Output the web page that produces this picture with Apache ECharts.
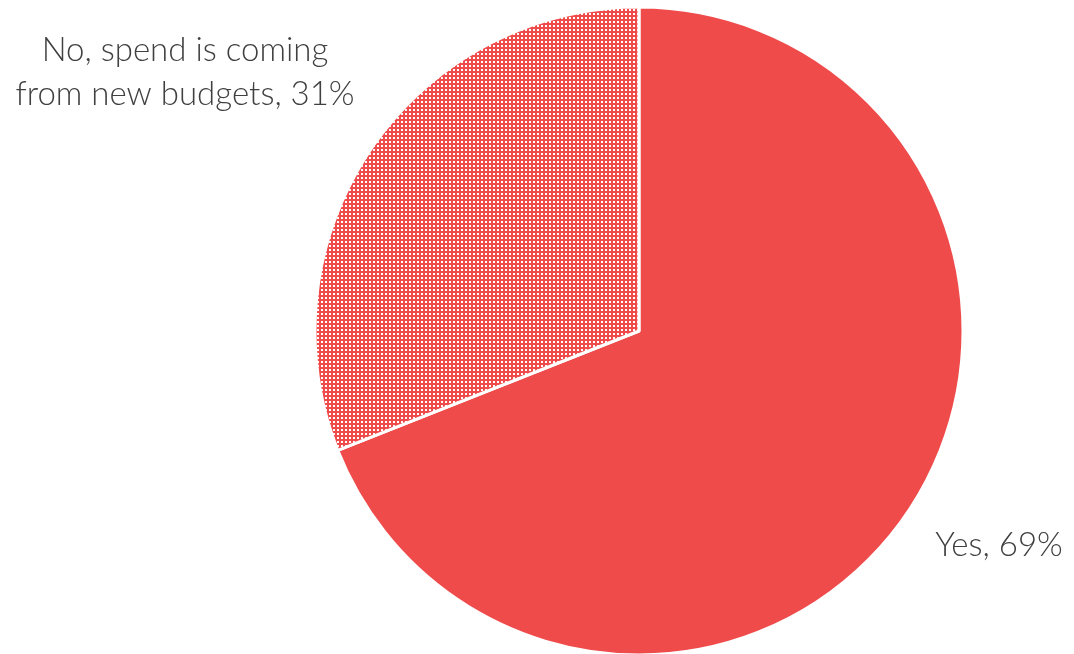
<!DOCTYPE html>
<html>
<head>
<meta charset="utf-8">
<style>
  html, body { margin: 0; padding: 0; background: #ffffff; }
  #chart { width: 1074px; height: 654px; }
</style>
<script src="https://cdn.jsdelivr.net/npm/echarts@6/dist/echarts.min.js"></script>
</head>
<body>
<div id="chart"></div>
<script>
// Survey answers and their shares (%)
const categories = ['Yes', 'No, spend is coming\nfrom new budgets'];
const shares = [69, 31];

const RED = '#EF4B4B';

// Dotted fill: small white squares on red, 4px repeat
function dotPattern() {
  const c = document.createElement('canvas');
  c.width = 4; c.height = 4;
  const g = c.getContext('2d');
  g.fillStyle = RED;
  g.fillRect(0, 0, 4, 4);
  g.fillStyle = '#ffffff';
  g.fillRect(1, 1, 2, 2);
  return c;
}

// Label anchor points for each slice
const labelSpots = [
  { x: 999, y: 545 },
  { x: 185, y: 72 }
];

const chart = echarts.init(document.getElementById('chart'), null, { renderer: 'canvas' });

chart.setOption({
  animation: false,
  series: [{
    type: 'pie',
    center: [639, 331],
    radius: [0, 324],
    startAngle: 90,
    clockwise: true,
    emphasis: { disabled: true },
    itemStyle: { borderColor: '#ffffff', borderWidth: 3 },
    label: {
      show: true,
      position: 'inside',
      overflow: 'none',
      formatter: p => p.name + ', ' + p.value + '%',
      fontFamily: 'Lato, "Open Sans", sans-serif',
      fontWeight: 300,
      fontSize: 33,
      lineHeight: 44,
      color: '#404040',
      align: 'center'
    },
    labelLine: { show: false },
    labelLayout: params => {
      const s = labelSpots[params.dataIndex];
      return { x: s.x, y: s.y, align: 'center', verticalAlign: 'middle' };
    },
    data: categories.map((name, i) => ({
      name: name,
      value: shares[i],
      itemStyle: i === 0
        ? { color: RED }
        : { color: { image: dotPattern(), repeat: 'repeat' } }
    }))
  }]
});
</script>
</body>
</html>
